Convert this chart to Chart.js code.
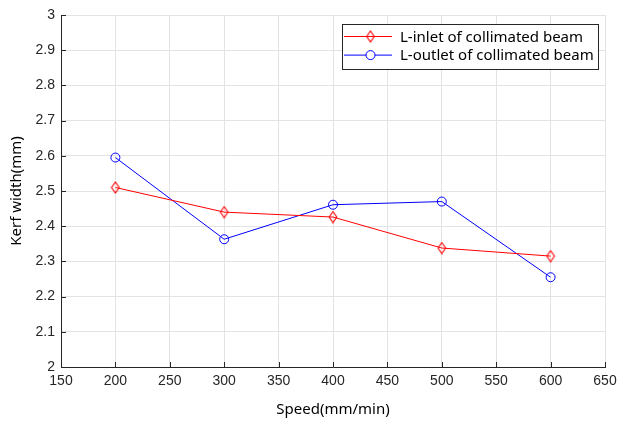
<!DOCTYPE html>
<html>
<head>
<meta charset="utf-8">
<script src="https://cdn.jsdelivr.net/npm/chart.js@4/dist/chart.umd.min.js"></script>
<style>
  html, body { margin: 0; padding: 0; background: #fff; }
  #wrap { width: 618px; height: 423px; position: relative; }
</style>
</head>
<body>
<div id="wrap"><canvas id="kerfChart"></canvas></div>
<script>
const speeds = [200, 300, 400, 500, 600];
const inletWidth = [2.51, 2.44, 2.426, 2.338, 2.315];
const outletWidth = [2.595, 2.363, 2.461, 2.47, 2.255];
const seriesNames = ['L-inlet of collimated beam', 'L-outlet of collimated beam'];
const xTitle = 'Speed(mm/min)';
const yTitle = 'Kerf width(mm)';

const TICK_FONT = '"Liberation Sans", Arial, sans-serif';
const LABEL_FONT = '"Noto Sans", "Open Sans", sans-serif';
const TEXT = '#262626';

// tall diamond marker, like matlab's 'd'
function diamondMarker(color) {
    const c = document.createElement('canvas');
    c.width = 10; c.height = 13;
    const g = c.getContext('2d');
    g.strokeStyle = color;
    g.lineWidth = 1.1;
    g.beginPath();
    g.moveTo(5, 1);
    g.lineTo(8.8, 6.5);
    g.lineTo(5, 12);
    g.lineTo(1.2, 6.5);
    g.closePath();
    g.stroke();
    return c;
}

function toPoints(xs, ys) {
    return xs.map((x, i) => ({ x: x, y: ys[i] }));
}

// small tick marks pointing into the plot area
const innerTicks = {
    id: 'innerTicks',
    afterDatasetsDraw(chart) {
        const ctx = chart.ctx;
        const area = chart.chartArea;
        const xs = chart.scales.x, ys = chart.scales.y;
        ctx.save();
        ctx.strokeStyle = TEXT;
        ctx.lineWidth = 1;
        ctx.beginPath();
        xs.ticks.forEach(t => {
            const px = Math.round(xs.getPixelForValue(t.value)) + 0.5;
            ctx.moveTo(px, area.bottom);
            ctx.lineTo(px, area.bottom - 5);
        });
        ys.ticks.forEach(t => {
            const py = Math.round(ys.getPixelForValue(t.value)) + 0.5;
            ctx.moveTo(area.left, py);
            ctx.lineTo(area.left + 5, py);
        });
        ctx.stroke();
        ctx.restore();
    }
};

// boxed legend with a line segment and marker for each series
const boxLegend = {
    id: 'boxLegend',
    afterDraw(chart) {
        const ctx = chart.ctx;
        const area = chart.chartArea;
        const right = Math.round(area.right) - 7, top = Math.round(area.top) + 9;
        const w = 256, h = 45;
        const left = right - w;
        ctx.save();
        ctx.fillStyle = '#fff';
        ctx.fillRect(left, top, w, h);
        ctx.strokeStyle = '#262626';
        ctx.lineWidth = 1;
        ctx.strokeRect(left + 0.5, top + 0.5, w, h);
        ctx.font = '15px ' + LABEL_FONT;
        ctx.textBaseline = 'middle';
        chart.data.datasets.forEach((ds, i) => {
            const y = top + 12.5 + i * 18.6;
            ctx.strokeStyle = ds.borderColor;
            ctx.beginPath();
            ctx.moveTo(left + 2, y);
            ctx.lineTo(left + 50, y);
            ctx.stroke();
            ctx.fillStyle = '#fff';
            Chart.helpers.drawPoint(ctx, {
                pointStyle: ds.pointStyle,
                radius: ds.pointRadius,
                borderWidth: 1
            }, left + 28.5, y);
            ctx.fillStyle = '#000';
            ctx.fillText(ds.label, left + 58, y + 1);
        });
        ctx.restore();
    }
};

new Chart(document.getElementById('kerfChart'), {
    type: 'line',
    data: {
        datasets: [{
            label: seriesNames[0],
            data: toPoints(speeds, inletWidth),
            borderColor: '#ff0000',
            backgroundColor: '#ff0000',
            borderWidth: 1,
            pointStyle: diamondMarker('#ff0000'),
            pointRadius: 5,
            pointHoverRadius: 5
        }, {
            label: seriesNames[1],
            data: toPoints(speeds, outletWidth),
            borderColor: '#0000ff',
            backgroundColor: 'rgba(0,0,0,0)',
            borderWidth: 1,
            pointStyle: 'circle',
            pointRadius: 4.5,
            pointBorderWidth: 1,
            pointHoverRadius: 4.5
        }]
    },
    options: {
        responsive: true,
        maintainAspectRatio: false,
        animation: false,
        events: [],
        layout: { padding: { top: 15, right: 13, left: 0, bottom: 0 } },
        plugins: {
            legend: { display: false },
            tooltip: { enabled: false }
        },
        scales: {
            x: {
                type: 'linear',
                min: 150,
                max: 650,
                afterFit: s => {
                    s.height = 56;
                    s.paddingLeft = 0;
                    s.paddingRight = 0;
                },
                ticks: {
                    stepSize: 50,
                    color: TEXT,
                    padding: 6,
                    font: { family: TICK_FONT, size: 14 }
                },
                grid: { color: '#e3e3e3', drawTicks: false },
                border: { display: true, color: TEXT, width: 1 },
                title: {
                    display: true,
                    text: xTitle,
                    color: '#000',
                    padding: { top: 2 },
                    font: { family: LABEL_FONT, size: 15 }
                }
            },
            y: {
                min: 2,
                max: 3,
                afterFit: s => {
                    s.width = 61;
                    s.paddingTop = 0;
                    s.paddingBottom = 0;
                },
                ticks: {
                    stepSize: 0.1,
                    color: TEXT,
                    padding: 6,
                    font: { family: TICK_FONT, size: 14 },
                    callback: v => String(Number(v.toFixed(1)))
                },
                grid: { color: '#e3e3e3', drawTicks: false },
                border: { display: true, color: TEXT, width: 1 },
                title: {
                    display: true,
                    text: yTitle,
                    color: '#000',
                    padding: { top: 8, bottom: 0 },
                    font: { family: LABEL_FONT, size: 15 }
                }
            }
        }
    },
    plugins: [innerTicks, boxLegend]
});
</script>
</body>
</html>
